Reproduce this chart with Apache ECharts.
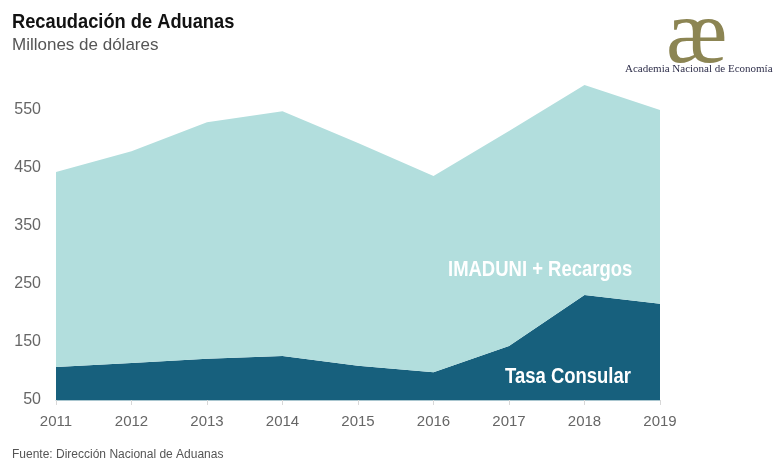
<!DOCTYPE html>
<html>
<head>
<meta charset="utf-8">
<script src="https://cdn.jsdelivr.net/npm/echarts@6/dist/echarts.min.js"></script>
<style>
  html, body { margin: 0; padding: 0; background: #fff; }
  #chart { width: 773px; height: 461px; }
</style>
</head>
<body>
<div id="chart"></div>
<script>
var years = ['2011', '2012', '2013', '2014', '2015', '2016', '2017', '2018', '2019'];
// Tasa Consular (bottom band)
var tasaConsular = [107, 114, 121, 126, 109, 98, 143, 231, 216];
// IMADUNI + Recargos (stacked on top)
var imaduni = [336, 365, 408, 422, 384, 338, 371, 362, 334];

var chart = echarts.init(document.getElementById('chart'));

var lightFont = '"Liberation Sans", Arial, sans-serif';
var boldFont = '"Liberation Sans", Arial, sans-serif';

var option = {
	animation: false,
	grid: {
		left: 56,
		right: 113,
		top: 81,
		bottom: 61
	},
	xAxis: {
		type: 'category',
		boundaryGap: false,
		data: years,
		axisLine: { lineStyle: { color: '#a9c6cf', width: 1 } },
		axisTick: { show: true, length: 5, lineStyle: { color: '#d8d8d8' } },
		axisLabel: {
			color: '#666',
			fontSize: 15,
			fontFamily: lightFont,
			margin: 14
		},
		splitLine: { show: false }
	},
	yAxis: {
		type: 'value',
		min: 50,
		max: 600,
		interval: 100,
		axisLine: { show: false },
		axisTick: { show: false },
		splitLine: { show: false },
		axisLabel: {
			color: '#666',
			fontSize: 16,
			fontFamily: lightFont,
			margin: 15,
			padding: [5, 0, 0, 0],
			showMaxLabel: false
		}
	},
	series: [{
		name: 'Tasa Consular',
		type: 'line',
		stack: 'total',
		data: tasaConsular,
		symbol: 'none',
		lineStyle: { width: 0 },
		areaStyle: { color: '#17607d', opacity: 1 }
	}, {
		name: 'IMADUNI + Recargos',
		type: 'line',
		stack: 'total',
		data: imaduni,
		symbol: 'none',
		lineStyle: { width: 0 },
		areaStyle: { color: '#b2dedd', opacity: 1 }
	}],
	graphic: [{
		type: 'text',
		left: 12,
		top: 12,
		scaleX: 0.87,
		z: 100,
		style: {
			text: 'Recaudación de Aduanas',
			font: 'bold 21px ' + boldFont,
			fill: '#111'
		}
	}, {
		type: 'text',
		left: 12,
		top: 37,
		z: 100,
		style: {
			text: 'Millones de dólares',
			font: '17px ' + lightFont,
			fill: '#555'
		}
	}, {
		type: 'text',
		left: 666,
		top: -8,
		z: 100,
		style: {
			text: 'æ',
			font: '92px "Liberation Serif", "DejaVu Serif", serif',
			fill: '#8c8553'
		}
	}, {
		type: 'text',
		left: 625,
		top: 64,
		z: 100,
		style: {
			text: 'Academia Nacional de Economía',
			font: '11px "Liberation Serif", "DejaVu Serif", serif',
			fill: '#2e2e4a'
		}
	}, {
		type: 'text',
		left: 448,
		top: 259,
		scaleX: 0.84,
		z: 100,
		style: {
			text: 'IMADUNI + Recargos',
			font: 'bold 22px ' + boldFont,
			fill: '#ffffff'
		}
	}, {
		type: 'text',
		left: 505,
		top: 366,
		scaleX: 0.84,
		z: 100,
		style: {
			text: 'Tasa Consular',
			font: 'bold 22px ' + boldFont,
			fill: '#ffffff'
		}
	}, {
		type: 'text',
		left: 12,
		top: 449,
		z: 100,
		style: {
			text: 'Fuente: Dirección Nacional de Aduanas',
			font: '12px ' + lightFont,
			fill: '#555'
		}
	}]
};
chart.setOption(option);
</script>
</body>
</html>
